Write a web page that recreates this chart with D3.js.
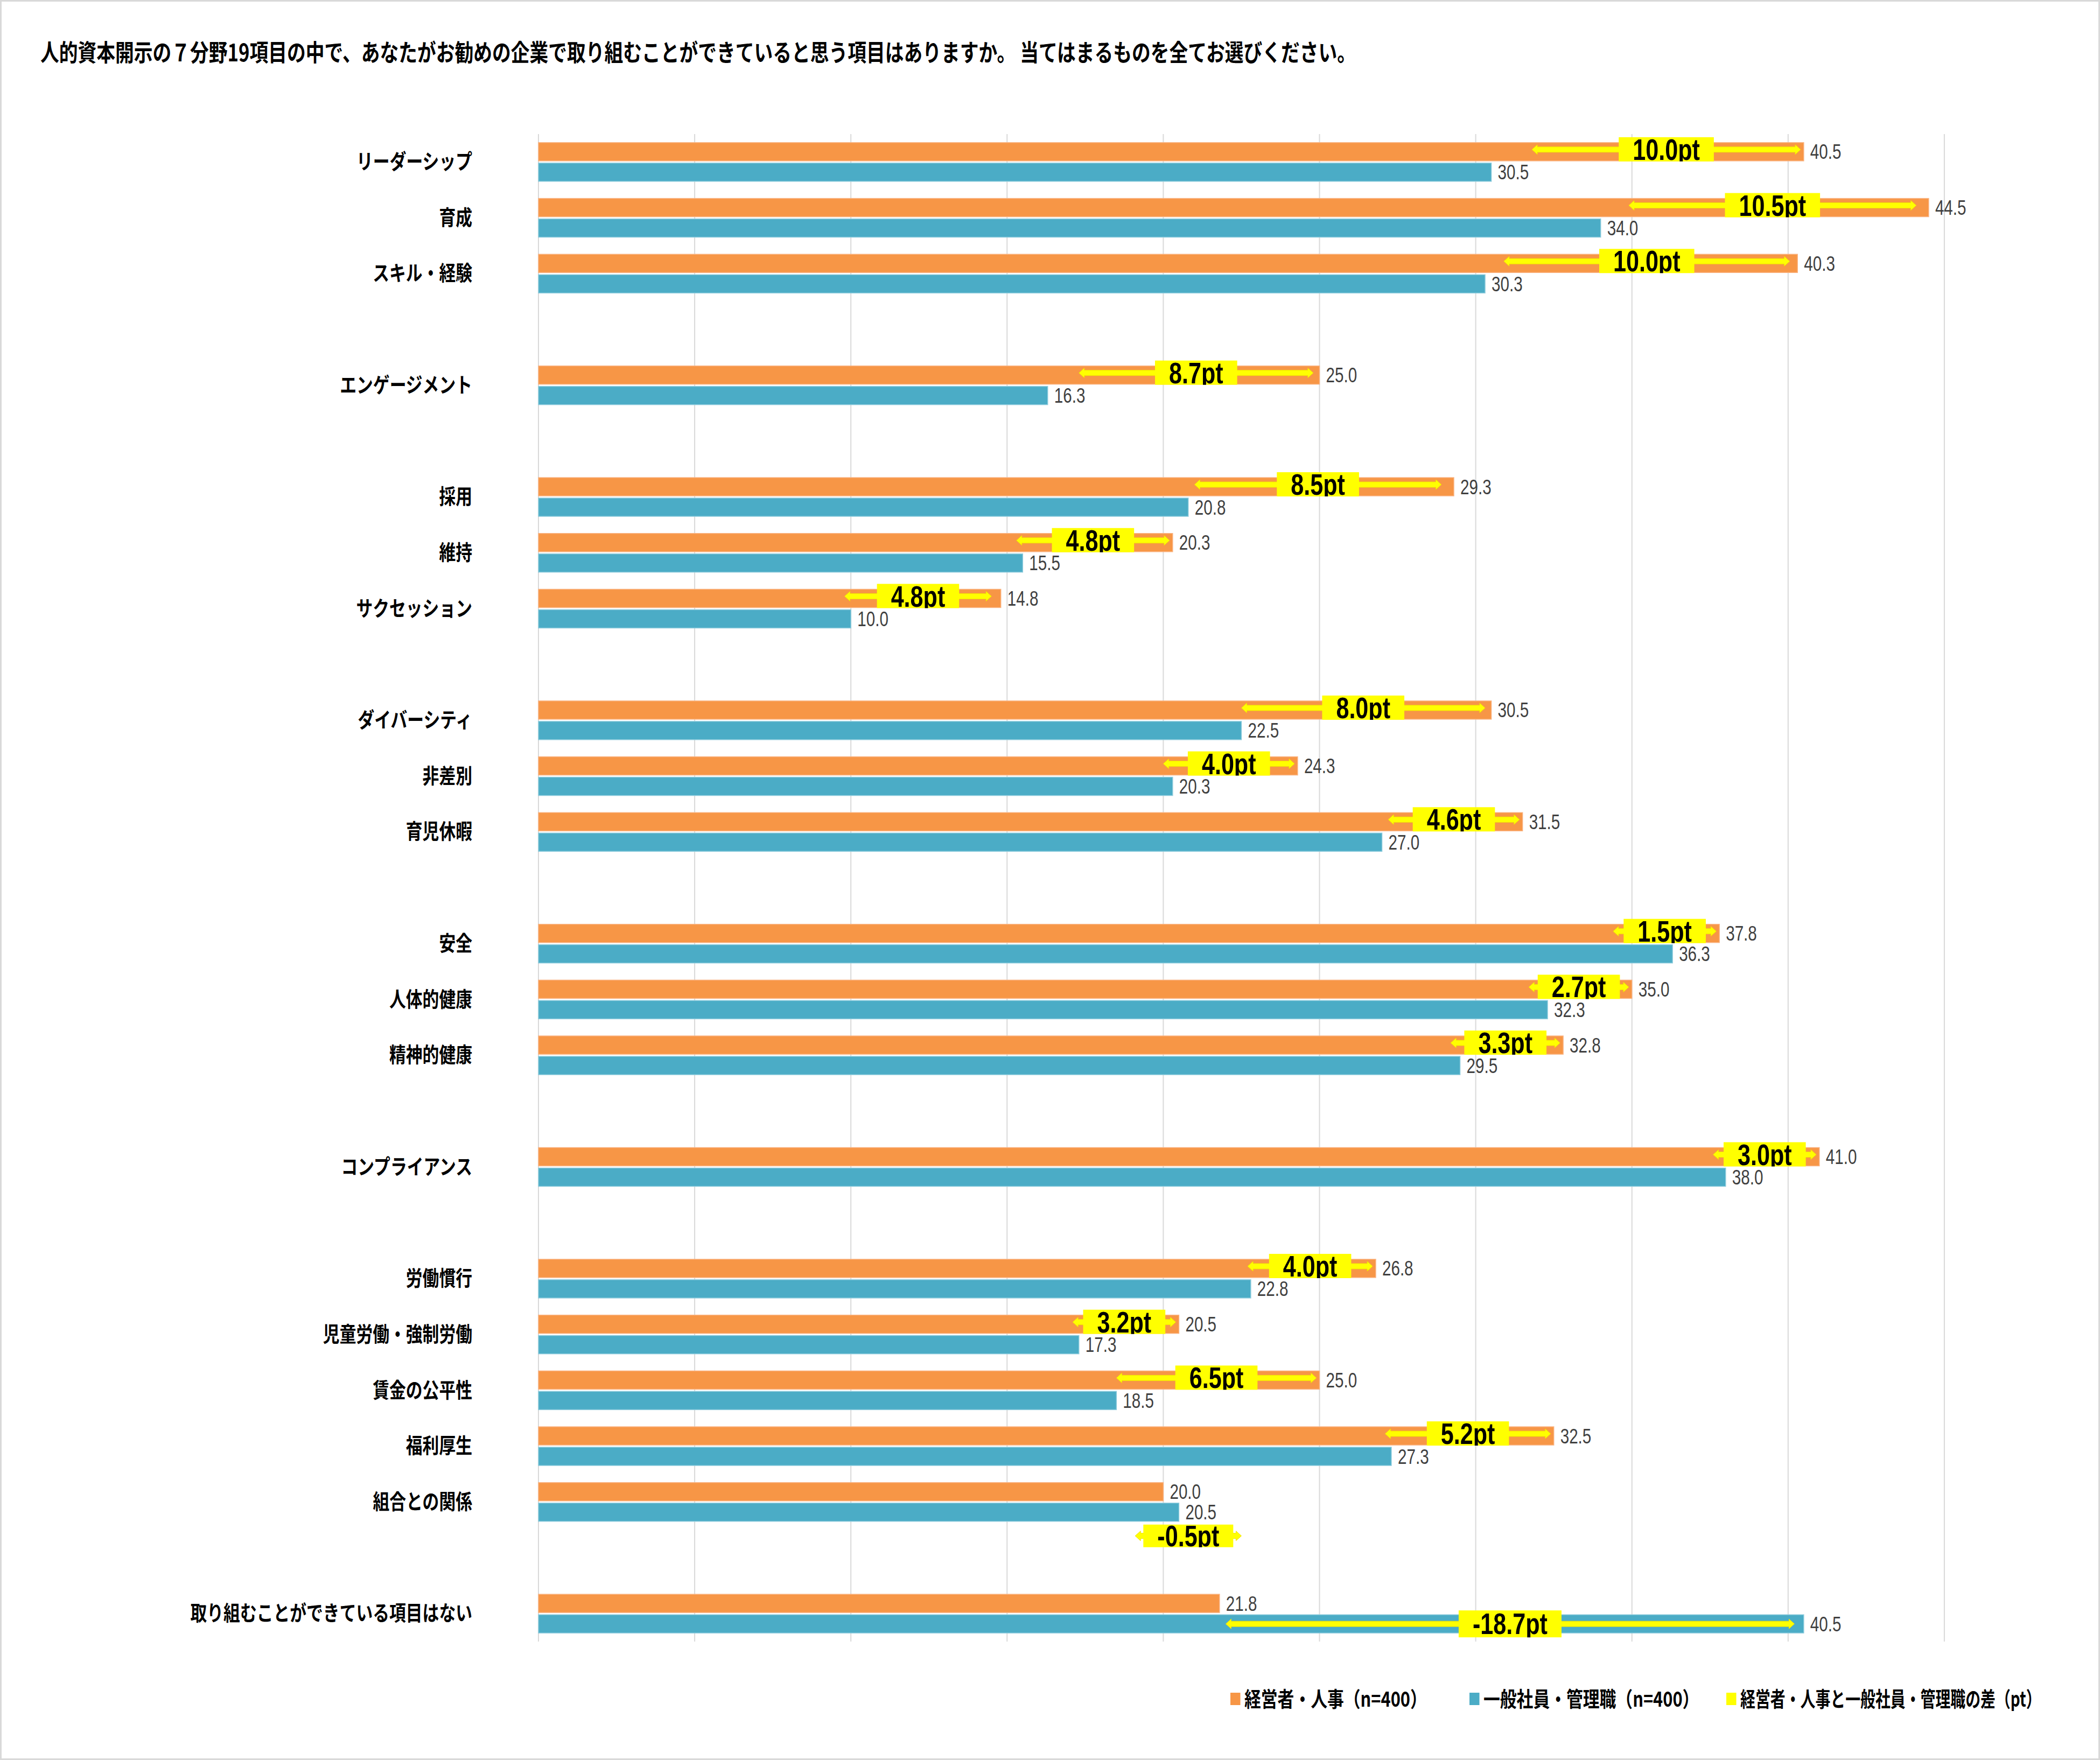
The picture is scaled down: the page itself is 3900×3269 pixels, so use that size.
<!DOCTYPE html>
<html>
<head>
<meta charset="utf-8">
<script src="https://cdn.jsdelivr.net/npm/d3@7"></script>
<style>
  html, body { margin: 0; padding: 0; background: #fff; }
  svg { display: block; }
</style>
</head>
<body>
<script>
// ---------------- DATA ----------------
const title = "人的資本開示の７分野19項目の中で、あなたがお勧めの企業で取り組むことができていると思う項目はありますか。 当てはまるものを全てお選びください。";

const categories = [
  "リーダーシップ","育成","スキル・経験","エンゲージメント","採用","維持","サクセッション",
  "ダイバーシティ","非差別","育児休暇","安全","人体的健康","精神的健康","コンプライアンス",
  "労働慣行","児童労働・強制労働","賃金の公平性","福利厚生","組合との関係","取り組むことができている項目はない"
];
// 経営者・人事（n=400）
const mgmtValues  = [40.5,44.5,40.3,25.0,29.3,20.3,14.8,30.5,24.3,31.5,37.8,35.0,32.8,41.0,26.8,20.5,25.0,32.5,20.0,21.8];
// 一般社員・管理職（n=400）
const staffValues = [30.5,34.0,30.3,16.3,20.8,15.5,10.0,22.5,20.3,27.0,36.3,32.3,29.5,38.0,22.8,17.3,18.5,27.3,20.5,40.5];
// 差（pt）
const diffValues  = [10.0,10.5,10.0,8.7,8.5,4.8,4.8,8.0,4.0,4.6,1.5,2.7,3.3,3.0,4.0,3.2,6.5,5.2,-0.5,-18.7];
// double arrow extents (value units)
const arrowFrom = [31.8,34.9,30.9,17.3,21.0,15.3,9.8,22.5,20.0,27.2,34.4,31.7,29.2,37.6,22.7,17.1,18.5,27.1,19.1,22.0];
const arrowTo   = [40.4,44.1,40.05,24.8,28.9,20.2,14.5,30.3,24.2,31.4,37.7,34.9,32.7,40.9,26.7,20.4,24.9,32.4,22.5,40.2];
// which bar the arrow sits on
const arrowOn   = ["o","o","o","o","o","o","o","o","o","o","o","o","o","o","o","o","o","o","below","b"];

// row order including empty group separators
const rowOrder = [
  "リーダーシップ","育成","スキル・経験","_g1","エンゲージメント","_g2","採用","維持","サクセッション","_g3",
  "ダイバーシティ","非差別","育児休暇","_g4","安全","人体的健康","精神的健康","_g5","コンプライアンス","_g6",
  "労働慣行","児童労働・強制労働","賃金の公平性","福利厚生","組合との関係","_g7","取り組むことができている項目はない"
];
const xTicks = [0,5,10,15,20,25,30,35,40,45];
const seriesNames = ["経営者・人事（n=400）","一般社員・管理職（n=400）","経営者・人事と一般社員・管理職の差（pt）"];

// ---------------- STYLE / LAYOUT ----------------
const W = 3900, H = 3269;
const ORANGE = "#F79646", BLUE = "#4BACC6", YELLOW = "#FFFF00";
const CJK = '"Noto Sans CJK JP", "Noto Sans", sans-serif';
const NUM = '"Liberation Sans", Arial, sans-serif';
const SX = 0.79;      // horizontal text compression of the original
const barH = 34, barGap = 4;
const legendX = [2285, 2729, 3206];
const legendSX = [0.79, 0.79, 0.715];

const svg = d3.select("body").append("svg").attr("width", W).attr("height", H);
svg.append("rect").attr("x",0).attr("y",0).attr("width",W).attr("height",H).attr("fill","#fff");
svg.append("rect").attr("x",1.5).attr("y",1.5).attr("width",W-3).attr("height",H-3)
  .attr("fill","none").attr("stroke","#D9D9D9").attr("stroke-width",3);

const x = d3.scaleLinear().domain([0,45]).range([1000, 1000 + 45*58.02]);
const y = d3.scaleBand().domain(rowOrder).range([249, 3049]).paddingInner(0).paddingOuter(0);
const bw = y.bandwidth();
const off = (bw - (2*barH + barGap)) / 2;
const yO = c => y(c) + off;
const yB = c => y(c) + off + barH + barGap;

// title
svg.append("text")
  .attr("transform", `translate(75,95) scale(${SX},1)`)
  .attr("font-family", CJK).attr("font-weight", 700).attr("font-size", 44)
  .attr("dominant-baseline","central").attr("fill","#000")
  .text(title);

// gridlines
svg.append("g").selectAll("line").data(xTicks).join("line")
  .attr("x1", d => x(d)).attr("x2", d => x(d))
  .attr("y1", 249).attr("y2", 3049)
  .attr("stroke", "#D9D9D9").attr("stroke-width", 2);

const data = categories.map((c,i) => ({
  cat: c, m: mgmtValues[i], s: staffValues[i], d: diffValues[i],
  a0: arrowFrom[i], a1: arrowTo[i], on: arrowOn[i]
}));

// category labels
svg.append("g").selectAll("text").data(data).join("text")
  .attr("transform", d => `translate(877,${y(d.cat) + bw/2 - 4}) scale(${SX},1)`)
  .attr("text-anchor","end").attr("dominant-baseline","central")
  .attr("font-family", CJK).attr("font-weight", 700).attr("font-size", 39)
  .attr("fill","#000").text(d => d.cat);

// bars
const gBars = svg.append("g");
gBars.selectAll("rect.o").data(data).join("rect").attr("class","o")
  .attr("x", x(0)).attr("y", d => yO(d.cat))
  .attr("width", d => x(d.m) - x(0)).attr("height", barH)
  .attr("fill", ORANGE).attr("stroke","#FAB27F").attr("stroke-width",1.5);
gBars.selectAll("rect.b").data(data).join("rect").attr("class","b")
  .attr("x", x(0)).attr("y", d => yB(d.cat))
  .attr("width", d => x(d.s) - x(0)).attr("height", barH)
  .attr("fill", BLUE).attr("stroke","#8CCBDC").attr("stroke-width",1.5);

// value labels
const vl = svg.append("g").attr("font-family", NUM).attr("font-size", 39).attr("fill","#404040");
vl.selectAll("text.o").data(data).join("text").attr("class","o")
  .attr("transform", d => `translate(${x(d.m)+12},${yO(d.cat)+barH/2}) scale(0.76,1)`)
  .attr("dominant-baseline","central").text(d => d.m.toFixed(1));
vl.selectAll("text.b").data(data).join("text").attr("class","b")
  .attr("transform", d => `translate(${x(d.s)+12},${yB(d.cat)+barH/2}) scale(0.76,1)`)
  .attr("dominant-baseline","central").text(d => d.s.toFixed(1));

// difference arrows + labels
function arrowY(d){
  if (d.on === "b") return yB(d.cat) + barH/2;
  if (d.on === "below") return yB(d.cat) + barH/2 + 44;
  return yO(d.cat) + barH/2 - 4;
}
const st = 10, hh = 9, hl = 10;
function arrowPath(x0, x1, cy){
  return `M${x0},${cy} L${x0+hl},${cy-hh} L${x0+hl},${cy-st/2} L${x1-hl},${cy-st/2} L${x1-hl},${cy-hh} L${x1},${cy}` +
         ` L${x1-hl},${cy+hh} L${x1-hl},${cy+st/2} L${x0+hl},${cy+st/2} L${x0+hl},${cy+hh} Z`;
}
const defs = svg.append("defs");
const gA = svg.append("g");
const LSX = 0.77, LFS = 56;
data.forEach((d,i) => {
  const cy = arrowY(d);
  const x0 = x(d.a0), x1 = x(d.a1);
  gA.append("path").attr("d", arrowPath(x0, x1, cy))
    .attr("fill", YELLOW).attr("stroke","#F2E200").attr("stroke-width",1);
  const cx = (x0 + x1)/2;
  const label = d.d.toFixed(1) + "pt";
  const bh = d.on === "o" ? 45 : (d.on === "b" ? 50 : 42);
  const boxRect = gA.append("rect").attr("fill", YELLOW);
  const clipG = gA.append("g");
  const t = clipG.append("text")
    .attr("font-family", NUM).attr("font-weight",700).attr("font-size",LFS)
    .attr("dominant-baseline","central").attr("text-anchor","middle")
    .attr("transform", `translate(${cx},${cy}) scale(${LSX},1)`)
    .attr("fill","#000").text(label);
  const tw = t.node().getComputedTextLength() * LSX;
  const pad = 26;
  const bx = cx - tw/2 - pad, byy = cy - bh/2 + (d.on === "o" ? -0.5 : 0);
  boxRect.attr("x", bx).attr("y", byy).attr("width", tw + 2*pad).attr("height", bh);
  defs.append("clipPath").attr("id","clip"+i).append("rect")
    .attr("x", bx).attr("y", byy).attr("width", tw + 2*pad).attr("height", bh);
  clipG.attr("clip-path", `url(#clip${i})`);
});

// legend
const legColors = [ORANGE, BLUE, YELLOW];
const lg = svg.append("g");
const ly = 3155;
seriesNames.forEach((name, i) => {
  const lx = legendX[i];
  lg.append("rect").attr("x", lx).attr("y", ly - 11).attr("width", 18.5).attr("height", 23).attr("fill", legColors[i]);
  lg.append("text")
    .attr("transform", `translate(${lx + 26},${ly - 2}) scale(${legendSX[i]},1)`)
    .attr("dominant-baseline","central")
    .attr("font-family", CJK).attr("font-weight",700).attr("font-size",39)
    .attr("fill","#000").text(name);
});
</script>
</body>
</html>
